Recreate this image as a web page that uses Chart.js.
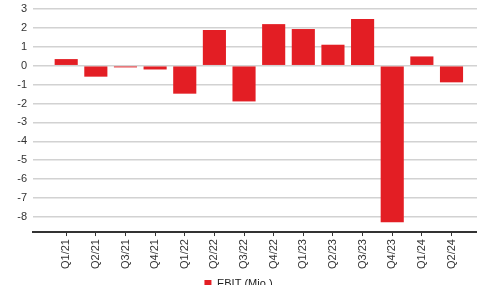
<!DOCTYPE html>
<html>
<head>
<meta charset="utf-8">
<script src="https://cdn.jsdelivr.net/npm/chart.js@4/dist/chart.umd.min.js"></script>
<style>
  html, body { margin: 0; padding: 0; background: #fff; overflow: hidden; }
  #wrap { position: relative; width: 477px; height: 299px; }
</style>
</head>
<body>
<div id="wrap"><canvas id="ebit"></canvas></div>
<script>
const quarters = ['Q1/21', 'Q2/21', 'Q3/21', 'Q4/21', 'Q1/22', 'Q2/22', 'Q3/22', 'Q4/22',
                  'Q1/23', 'Q2/23', 'Q3/23', 'Q4/23', 'Q1/24', 'Q2/24'];
const ebit = [0.35, -0.58, -0.09, -0.2, -1.48, 1.89, -1.89, 2.2, 1.94, 1.11, 2.47, -8.28, 0.49, -0.88];
const yTicks = [3, 2, 1, 0, -1, -2, -3, -4, -5, -6, -7, -8];

Chart.defaults.font.family = '"Liberation Sans", Arial, sans-serif';
Chart.defaults.font.size = 11;
Chart.defaults.color = '#333';

new Chart(document.getElementById('ebit'), {
    type: 'bar',
    data: {
        datasets: [{
            label: 'EBIT (Mio.)',
            data: ebit.map((v, i) => ({ x: i, y: v })),
            backgroundColor: '#e31e24',
            borderWidth: 0,
            barPercentage: 0.78,
            categoryPercentage: 1
        }]
    },
    options: {
        responsive: true,
        maintainAspectRatio: false,
        animation: false,
        layout: { padding: { top: 9, right: 0, left: 0, bottom: 0 } },
        plugins: {
            legend: {
                position: 'bottom',
                labels: { boxWidth: 7, boxHeight: 7, padding: 6, color: '#222' }
            },
            tooltip: { enabled: false }
        },
        scales: {
            x: {
                type: 'linear',
                offset: false,
                min: -1.12,
                max: 13.86,
                afterBuildTicks: s => { s.ticks = quarters.map((_, i) => ({ value: i })); },
                ticks: {
                    autoSkip: false,
                    minRotation: 90,
                    maxRotation: 90,
                    padding: 3,
                    callback: v => quarters[v]
                },
                grid: { offset: false, drawOnChartArea: false, drawTicks: true, tickLength: 4, color: '#333' },
                border: { display: true, color: '#333', width: 2 }
            },
            y: {
                min: -8.8,
                max: 3,
                afterBuildTicks: s => { s.ticks = yTicks.map(v => ({ value: v })); },
                afterFit: s => { s.width = 33; s.paddingTop = 0; s.paddingBottom = 0; },
                ticks: { padding: 6 },
                grid: { color: '#d2d2d2', lineWidth: 1.5, drawTicks: false },
                border: { display: false }
            }
        }
    }
});
</script>
</body>
</html>
